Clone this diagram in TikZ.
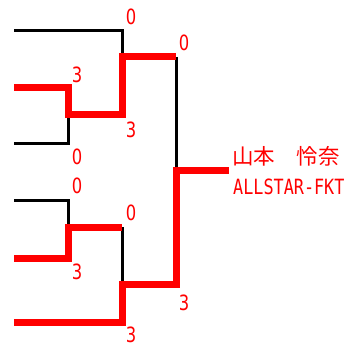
\documentclass[tikz,border=0pt]{standalone}
\usepackage{fontspec}
\newfontfamily\numfont[FakeStretch=0.78]{DejaVu Sans}
\newfontfamily\monofont[FakeStretch=0.8]{DejaVu Sans Mono}
\newfontfamily\jpfont{Noto Sans CJK JP}
\begin{document}
\begin{tikzpicture}[x=1pt,y=-1pt,
  loser/.style={draw=black,line width=3pt},
  winner/.style={draw=red,line width=7pt},
  score/.style={text=red,inner sep=0pt,font=\numfont\fontsize{21}{21}\selectfont},
  champ/.style={text=red,inner sep=0pt,anchor=base west}]
\useasboundingbox (0,0) rectangle (352,347);
% players
\coordinate (p1) at (14,31);
\coordinate (p2) at (14,88);
\coordinate (p3) at (14,144);
\coordinate (p4) at (14,200);
\coordinate (p5) at (14,258);
\coordinate (p6) at (14,322);
% match corners
\coordinate (a1) at (68,88);
\coordinate (a2) at (68,115);
\coordinate (a3) at (68,144);
\coordinate (b1) at (122,31);
\coordinate (b2) at (122,57);
\coordinate (b3) at (122,115);
\coordinate (c1) at (68,200);
\coordinate (c2) at (68,227);
\coordinate (c3) at (68,258);
\coordinate (d1) at (122,227);
\coordinate (d2) at (122,284);
\coordinate (d3) at (122,322);
\coordinate (f1) at (176,57);
\coordinate (f2) at (176,170);
\coordinate (f3) at (176,284);
\coordinate (w) at (229,170);
% losers
\draw[loser] (p1) -- (b1) -- (b2);
\draw[loser] (p3) -- (a3) -- (a2);
\draw[loser] (p4) -- (c1) -- (c2);
\draw[loser] (d1) -- (d2);
\draw[loser] (f1) -- (f2);
% winners
\draw[winner] (p2) -- (a1) -- (a2) -- (b3) -- (b2) -- (f1);
\draw[winner] (p5) -- (c3) -- (c2) -- (d1);
\draw[winner] (p6) -- (d3) -- (d2) -- (f3) -- (f2) -- (w);
% scores
\node[score] (s1) at (131,17) {0};
\node[score] (s2) at (77,75) {3};
\node[score] (s3) at (77,157) {0};
\node[score] (s4) at (131,130) {3};
\node[score] (s5) at (184,43) {0};
\node[score] (s6) at (77,186) {0};
\node[score] (s7) at (77,272) {3};
\node[score] (s8) at (131,213) {0};
\node[score] (s9) at (131,335) {3};
\node[score] (s10) at (184,303) {3};
% champion
\node[champ,font=\jpfont\fontsize{21.5}{21.5}\selectfont] (n1) at (232,164.5) {山本　怜奈};
\node[champ,font=\monofont\fontsize{21}{21}\selectfont] (n2) at (233,194) {ALLSTAR-FKT};
\end{tikzpicture}
\end{document}
